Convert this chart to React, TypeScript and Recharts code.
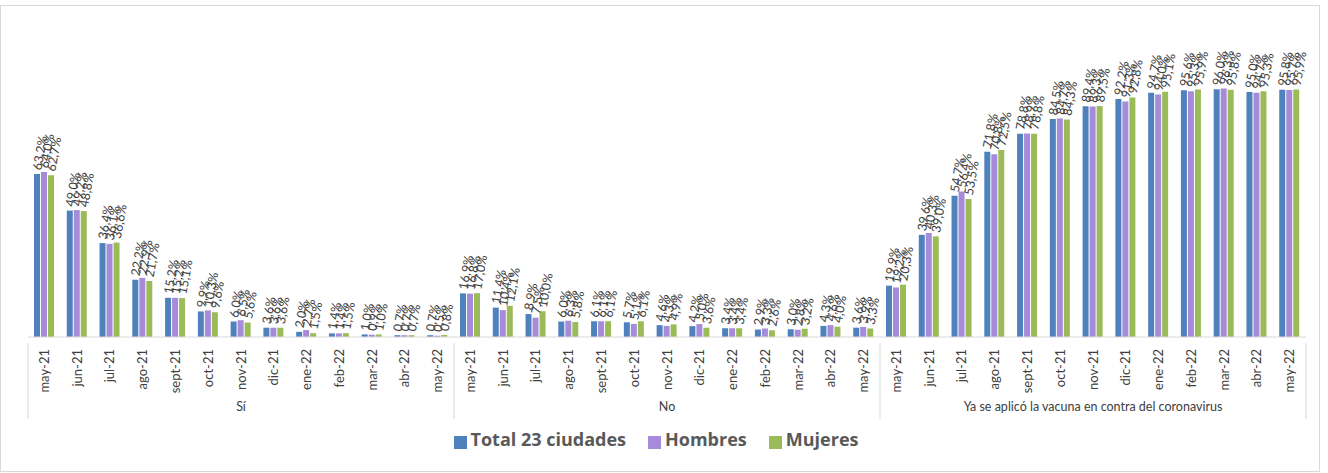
import React from "react";
import { BarChart, Bar, XAxis, YAxis, Legend, LabelList } from "recharts";

const months = ["may-21", "jun-21", "jul-21", "ago-21", "sept-21", "oct-21", "nov-21", "dic-21", "ene-22", "feb-22", "mar-22", "abr-22", "may-22"];
const groups = ["Sí", "No", "Ya se aplicó la vacuna en contra del coronavirus"];

const siTotal = [63.2, 49.0, 36.4, 22.2, 15.2, 9.9, 6.0, 3.6, 2.0, 1.4, 1.0, 0.7, 0.7];
const siHombres = [64.0, 49.2, 36.1, 22.9, 15.2, 10.3, 6.5, 3.6, 2.7, 1.4, 0.9, 0.7, 0.5];
const siMujeres = [62.7, 48.8, 36.6, 21.7, 15.1, 9.6, 5.6, 3.6, 1.5, 1.5, 1.0, 0.7, 0.8];

const noTotal = [16.9, 11.4, 8.9, 6.0, 6.1, 5.7, 4.6, 4.2, 3.4, 2.9, 3.0, 4.3, 3.6];
const noHombres = [16.8, 10.4, 7.5, 6.3, 6.1, 5.1, 4.3, 5.0, 3.4, 3.3, 2.8, 4.6, 3.9];
const noMujeres = [17.0, 12.1, 10.0, 5.8, 6.1, 6.1, 4.9, 3.6, 3.4, 2.6, 3.2, 4.0, 3.3];

const yaTotal = [19.9, 39.6, 54.7, 71.8, 78.8, 84.5, 89.4, 92.2, 94.7, 95.6, 96.0, 95.0, 95.8];
const yaHombres = [19.2, 40.3, 56.4, 70.8, 78.9, 84.7, 89.3, 91.3, 94.0, 95.3, 96.3, 94.7, 95.7];
const yaMujeres = [20.3, 39.0, 53.5, 72.5, 78.8, 84.3, 89.5, 92.8, 95.1, 95.9, 95.8, 95.3, 95.9];

const series = [
  [siTotal, siHombres, siMujeres],
  [noTotal, noHombres, noMujeres],
  [yaTotal, yaHombres, yaMujeres],
];

const seriesOrder = ["total", "hombres", "mujeres"];

const data = groups.flatMap((g, gi) =>
  months.map((m, mi) => ({
    key: `${gi}-${m}`,
    month: m,
    group: g,
    gi,
    mi,
    total: series[gi][0][mi],
    hombres: series[gi][1][mi],
    mujeres: series[gi][2][mi],
  }))
);

const FONT = "Lato, 'Open Sans', sans-serif";
const TXT = "#404040";

const fmt = (v: number) => v.toFixed(1).replace(".", ",") + "%";

const ValueLabel = (props: any) => {
  const { x, y, width, value } = props;
  const cx = x + width / 2;
  const cy = y - 4;
  return (
    <text
      x={cx}
      y={cy}
      dy="0.35em"
      fontSize={12.5}
      fontFamily={FONT}
      fill={TXT}
      textAnchor="start"
      transform={`rotate(-80, ${cx}, ${cy})`}
    >
      {fmt(value)}
    </text>
  );
};

const MonthTick = (props: any) => {
  const { x, y, payload } = props;
  const row = data[payload.index];
  return (
    <text
      x={x}
      y={y + 4}
      dy="0.35em"
      fontSize={13}
      fontFamily={FONT}
      fill={TXT}
      textAnchor="end"
      transform={`rotate(-90, ${x}, ${y + 4})`}
    >
      {row ? row.month : ""}
    </text>
  );
};

const GroupTick = (props: any) => {
  const { x, y, payload, visibleTicksCount } = props;
  const i = payload.index;
  const row = data[i];
  if (!row) return null;
  const step = 1277 / visibleTicksCount;
  const parts: React.ReactNode[] = [];
  if (row.mi === 0) {
    parts.push(<line key="l" x1={x - step / 2} x2={x - step / 2} y1={y - 58} y2={y + 18} stroke="#d9d9d9" />);
  }
  if (row.mi === months.length - 1 && row.gi === groups.length - 1) {
    parts.push(<line key="r" x1={x + step / 2} x2={x + step / 2} y1={y - 58} y2={y + 18} stroke="#d9d9d9" />);
  }
  if (row.mi === 6) {
    parts.push(
      <text key="t" x={x} y={y + 6} dy="0.35em" fontSize={12.5} fontFamily={FONT} fill={TXT} textAnchor="middle">
        {row.group}
      </text>
    );
  }
  return <g>{parts}</g>;
};

const legendText = (value: string) => (
  <span
    style={{
      color: "#595959",
      fontWeight: 700,
      fontSize: 18,
      fontFamily: "'Open Sans', sans-serif",
      marginRight: 12,
    }}
  >
    {value}
  </span>
);

export default function App() {
  return (
    <div
      style={{
        position: "absolute",
        left: 0,
        top: 5,
        width: 1318,
        height: 465,
        border: "1px solid #d9d9d9",
        background: "#fff",
      }}
    >
      <BarChart
        width={1318}
        height={464}
        data={data}
        margin={{ top: 73, right: 13, left: 27, bottom: 19 }}
        barSize={6}
        barGap={1}
      >
        <YAxis hide domain={[0, 100]} />
        <XAxis
          dataKey="key"
          interval={0}
          tickLine={false}
          axisLine={{ stroke: "#d9d9d9" }}
          height={56}
          tick={<MonthTick />}
        />
        <XAxis
          dataKey="key"
          xAxisId="group"
          interval={0}
          tickLine={false}
          axisLine={false}
          height={24}
          tick={<GroupTick />}
        />
        <Legend
          verticalAlign="bottom"
          iconType="square"
          iconSize={13}
          formatter={legendText}
          itemSorter={(item: any) => seriesOrder.indexOf(item.dataKey)}
          wrapperStyle={{ paddingTop: 10 }}
        />
        <Bar dataKey="total" name="Total 23 ciudades" fill="#4f81bd" isAnimationActive={false}>
          <LabelList dataKey="total" content={<ValueLabel />} />
        </Bar>
        <Bar dataKey="hombres" name="Hombres" fill="#a68bdb" isAnimationActive={false}>
          <LabelList dataKey="hombres" content={<ValueLabel />} />
        </Bar>
        <Bar dataKey="mujeres" name="Mujeres" fill="#9bbb59" isAnimationActive={false}>
          <LabelList dataKey="mujeres" content={<ValueLabel />} />
        </Bar>
      </BarChart>
    </div>
  );
}
